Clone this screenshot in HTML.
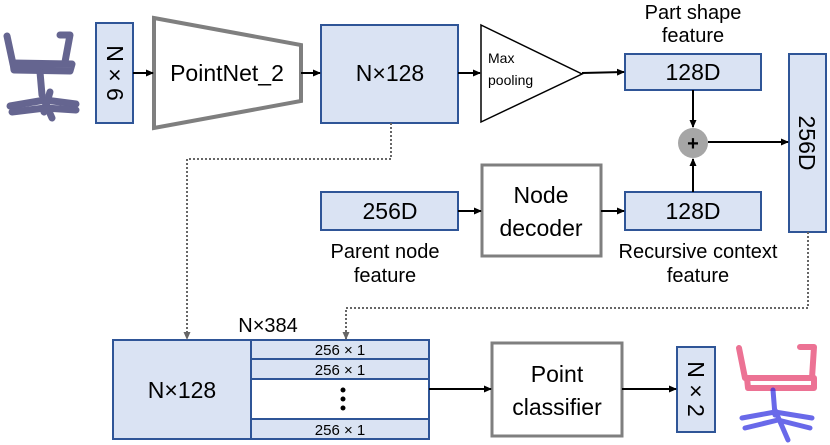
<!DOCTYPE html>
<html><head><style>
body{margin:0;background:#fff;}
svg{display:block;font-family:"Liberation Sans","DejaVu Sans",sans-serif;}
</style></head><body>
<svg width="830" height="445" viewBox="0 0 830 445">
<defs>
<marker id="a" markerWidth="8" markerHeight="8" refX="7" refY="4" orient="auto" markerUnits="userSpaceOnUse"><path d="M0,0.5 L8,4 L0,7.5z" fill="#000"/></marker>
<marker id="g" markerWidth="8" markerHeight="8" refX="7" refY="4" orient="auto" markerUnits="userSpaceOnUse"><path d="M0,0.5 L8,4 L0,7.5z" fill="#666"/></marker>
</defs>
<g fill="none" stroke-linecap="round" stroke-linejoin="round">
<g stroke="#4b4b7d" stroke-width="7" opacity="0.85">
<path d="M7,36 L13,64"/><path d="M60,35 L70,35 L65,62"/><path d="M13,63 L72,64 L70,71 L14,70z"/><path d="M40,72 L42,95"/>
<path d="M10,106 L45,100 L76,104"/><path d="M12,112 L45,108 L76,110"/><path d="M44,100 L52,118"/><path d="M50,92 L44,112"/>
</g>
<g stroke="#e8507a" stroke-width="6" opacity="0.8"><path d="M739,348 L745,378"/><path d="M800,347 L814,347 L812,378"/><path d="M747,378 L814,378 L814,388 L748,388z"/></g>
<g stroke="#2a2ae0" stroke-width="5" opacity="0.7"><path d="M773,390 L775,415"/><path d="M742,418 L775,412 L812,418"/><path d="M745,428 L778,420 L810,428"/><path d="M775,410 L788,440"/></g>
</g>
<g stroke="#2f5597" stroke-width="2" fill="#dae3f3">
<rect x="96" y="23" width="37" height="100"/>
<rect x="321" y="25" width="137" height="98"/>
<rect x="625" y="54" width="136" height="36"/>
<rect x="789" y="54" width="37" height="178"/>
<rect x="625" y="192" width="136" height="38"/>
<rect x="321" y="192" width="137" height="38"/>
<rect x="113" y="340" width="138" height="99"/>
<rect x="251" y="340" width="178" height="19"/>
<rect x="251" y="359" width="178" height="20"/>
<rect x="251" y="379" width="178" height="40" fill="#fff"/>
<rect x="251" y="419" width="178" height="20"/>
<rect x="677" y="347" width="38" height="85"/>
</g>
<path d="M154,18 L301,45 L301,101 L154,128z" fill="#fff" stroke="#7f7f7f" stroke-width="4"/>
<rect x="482" y="165" width="119" height="91" fill="#fff" stroke="#7f7f7f" stroke-width="3"/>
<rect x="492" y="343" width="130" height="93" fill="#fff" stroke="#7f7f7f" stroke-width="3"/>
<path d="M481,25 L582,74 L481,122z" fill="#fff" stroke="#000" stroke-width="1.5"/>
<circle cx="693" cy="143" r="15" fill="#a6a6a6"/>
<text x="693" y="150" font-size="20" font-weight="bold" text-anchor="middle">+</text>
<g stroke="#000" stroke-width="2" marker-end="url(#a)">
<line x1="133" y1="73" x2="153" y2="73"/>
<line x1="301" y1="73" x2="320" y2="73"/>
<line x1="458" y1="73" x2="480" y2="73"/>
<line x1="582" y1="73" x2="624" y2="72"/>
<line x1="693" y1="90" x2="693" y2="127"/>
<line x1="693" y1="192" x2="693" y2="159"/>
<line x1="708" y1="142" x2="788" y2="142"/>
<line x1="458" y1="211" x2="481" y2="211"/>
<line x1="601" y1="211" x2="624" y2="211"/>
<line x1="429" y1="389" x2="491" y2="389"/>
<line x1="622" y1="389" x2="676" y2="389"/>
</g>
<g stroke="#666" stroke-width="2" stroke-dasharray="2,2" fill="none" marker-end="url(#g)">
<path d="M391,123 L391,159 L187,159 L187,339"/>
<path d="M808,232 L808,308 L346,308 L346,339"/>
</g>
<g font-size="23" text-anchor="middle" fill="#000">
<text x="227" y="81">PointNet_2</text>
<text x="390" y="81">N×128</text>
<text x="693" y="80">128D</text>
<text x="693" y="219">128D</text>
<text x="390" y="219">256D</text>
<text x="541" y="203">Node</text>
<text x="541" y="236">decoder</text>
<text x="182" y="398">N×128</text>
<text x="557" y="382">Point</text>
<text x="557" y="415">classifier</text>
<text x="115" y="73" transform="rotate(90 115 73)" dy="8">N × 6</text>
<text x="696" y="389" transform="rotate(90 696 389)" dy="8">N × 2</text>
<text x="807" y="143" transform="rotate(90 807 143)" dy="8">256D</text>
</g>
<g font-size="20" text-anchor="middle">
<text x="693" y="19">Part shape</text>
<text x="693" y="42">feature</text>
<text x="385" y="258">Parent node</text>
<text x="385" y="282">feature</text>
<text x="698" y="258">Recursive context</text>
<text x="698" y="282">feature</text>
<text x="268" y="332">N×384</text>
</g>
<g font-size="15" text-anchor="middle"><text x="340" y="355">256 × 1</text><text x="340" y="375">256 × 1</text><text x="340" y="435">256 × 1</text></g>
<g fill="#000"><circle cx="343" cy="390" r="2.5"/><circle cx="343" cy="399" r="2.5"/><circle cx="343" cy="408" r="2.5"/></g>
<g font-size="14"><text x="488" y="63">Max</text><text x="488" y="85">pooling</text></g>
</svg>
</body></html>
